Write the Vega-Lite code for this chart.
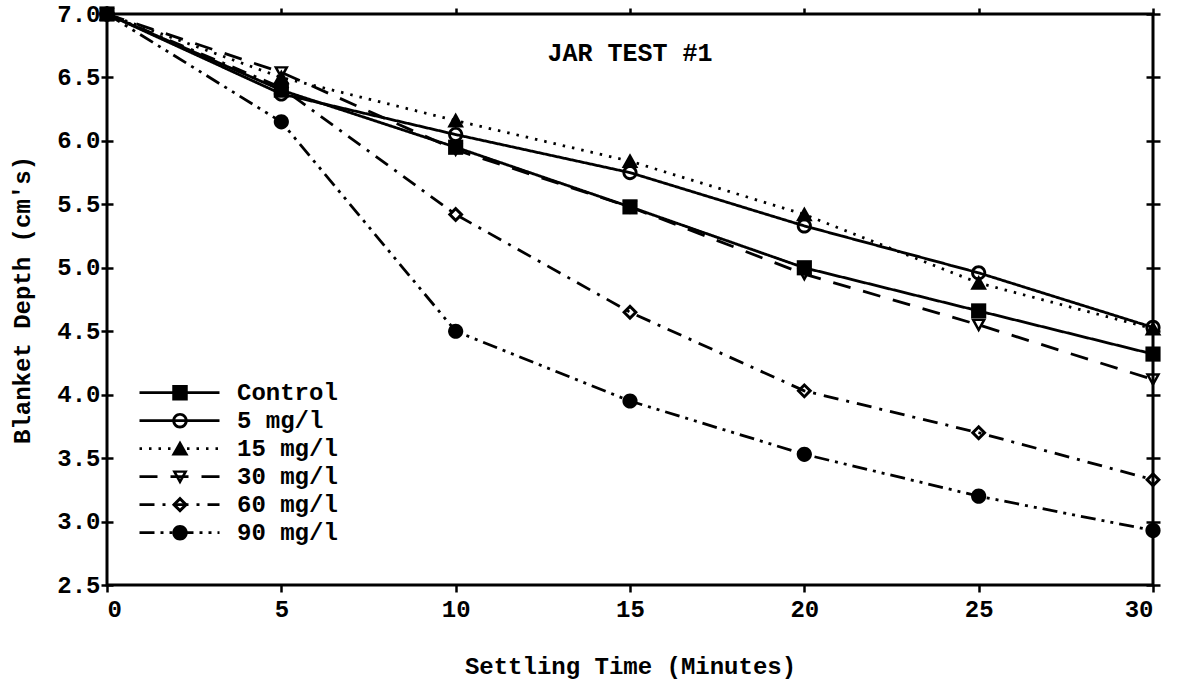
{
  "$schema": "https://vega.github.io/schema/vega-lite/v6.json",
  "autosize": "none",
  "width": 1046,
  "height": 571,
  "padding": {"left": 107, "top": 14, "right": 30, "bottom": 102},
  "background": "white",
  "title": {
    "text": "JAR TEST #1",
    "font": "Liberation Mono",
    "fontSize": 25,
    "fontWeight": "bold",
    "color": "black",
    "anchor": "middle",
    "orient": "top",
    "offset": -64
  },
  "config": {
    "view": {"stroke": "black", "strokeWidth": 3},
    "font": "Liberation Mono",
    "axis": {
      "labelFont": "Liberation Mono",
      "labelFontSize": 24,
      "labelFontWeight": "bold",
      "labelColor": "black",
      "titleFont": "Liberation Mono",
      "titleFontSize": 24,
      "titleFontWeight": "bold",
      "titleColor": "black",
      "tickColor": "black",
      "tickWidth": 2.5,
      "grid": false,
      "domain": false
    },
    "legend": {
      "labelFont": "Liberation Mono",
      "labelFontSize": 24,
      "labelFontWeight": "bold",
      "labelColor": "black",
      "padding": 0,
      "rowPadding": 0,
      "clipHeight": 27.3
    }
  },
  "data": {
    "values": [
      {"t": 0, "depth": 7.0, "series": "Control"},
      {"t": 5, "depth": 6.40, "series": "Control"},
      {"t": 10, "depth": 5.95, "series": "Control"},
      {"t": 15, "depth": 5.48, "series": "Control"},
      {"t": 20, "depth": 5.00, "series": "Control"},
      {"t": 25, "depth": 4.66, "series": "Control"},
      {"t": 30, "depth": 4.32, "series": "Control"},
      {"t": 0, "depth": 7.0, "series": "5 mg/l"},
      {"t": 5, "depth": 6.37, "series": "5 mg/l"},
      {"t": 10, "depth": 6.05, "series": "5 mg/l"},
      {"t": 15, "depth": 5.75, "series": "5 mg/l"},
      {"t": 20, "depth": 5.33, "series": "5 mg/l"},
      {"t": 25, "depth": 4.96, "series": "5 mg/l"},
      {"t": 30, "depth": 4.53, "series": "5 mg/l"},
      {"t": 0, "depth": 7.0, "series": "15 mg/l"},
      {"t": 5, "depth": 6.50, "series": "15 mg/l"},
      {"t": 10, "depth": 6.16, "series": "15 mg/l"},
      {"t": 15, "depth": 5.84, "series": "15 mg/l"},
      {"t": 20, "depth": 5.42, "series": "15 mg/l"},
      {"t": 25, "depth": 4.88, "series": "15 mg/l"},
      {"t": 30, "depth": 4.52, "series": "15 mg/l"},
      {"t": 0, "depth": 7.0, "series": "30 mg/l"},
      {"t": 5, "depth": 6.54, "series": "30 mg/l"},
      {"t": 10, "depth": 5.93, "series": "30 mg/l"},
      {"t": 15, "depth": 5.48, "series": "30 mg/l"},
      {"t": 20, "depth": 4.95, "series": "30 mg/l"},
      {"t": 25, "depth": 4.55, "series": "30 mg/l"},
      {"t": 30, "depth": 4.12, "series": "30 mg/l"},
      {"t": 0, "depth": 7.0, "series": "60 mg/l"},
      {"t": 5, "depth": 6.42, "series": "60 mg/l"},
      {"t": 10, "depth": 5.42, "series": "60 mg/l"},
      {"t": 15, "depth": 4.65, "series": "60 mg/l"},
      {"t": 20, "depth": 4.03, "series": "60 mg/l"},
      {"t": 25, "depth": 3.70, "series": "60 mg/l"},
      {"t": 30, "depth": 3.33, "series": "60 mg/l"},
      {"t": 0, "depth": 7.0, "series": "90 mg/l"},
      {"t": 5, "depth": 6.15, "series": "90 mg/l"},
      {"t": 10, "depth": 4.50, "series": "90 mg/l"},
      {"t": 15, "depth": 3.95, "series": "90 mg/l"},
      {"t": 20, "depth": 3.53, "series": "90 mg/l"},
      {"t": 25, "depth": 3.20, "series": "90 mg/l"},
      {"t": 30, "depth": 2.93, "series": "90 mg/l"}
    ]
  },
  "layer": [
    {
      "mark": {"type": "line", "stroke": "black", "strokeWidth": 2.8},
      "encoding": {
        "x": {
          "field": "t", "type": "quantitative",
          "scale": {"domain": [0, 30], "nice": false, "zero": false},
          "axis": {
            "orient": "bottom", "values": [0, 5, 10, 15, 20, 25, 30],
            "tickSize": 7, "labelPadding": 5, "labelBaseline": "top",
            "title": "Settling Time (Minutes)", "titlePadding": 33
          }
        },
        "y": {
          "field": "depth", "type": "quantitative",
          "scale": {"domain": [2.5, 7.0], "nice": false, "zero": false},
          "axis": {
            "orient": "left", "values": [2.5, 3.0, 3.5, 4.0, 4.5, 5.0, 5.5, 6.0, 6.5, 7.0],
            "format": ".1f", "offset": -6, "tickSize": 12, "labelPadding": 1,
            "title": "Blanket Depth (cm's)", "titlePadding": 22
          }
        },
        "detail": {"field": "series"},
        "strokeDash": {
          "field": "series", "type": "nominal",
          "scale": {
            "domain": ["Control", "5 mg/l", "15 mg/l", "30 mg/l", "60 mg/l", "90 mg/l"],
            "range": [[1, 0], [1, 0], [2.5, 7], [18, 13], [15, 8, 3, 8], [15, 6, 3, 6, 3, 6]]
          },
          "legend": {
            "orient": "none", "legendX": 31, "legendY": 365,
            "title": null, "symbolType": "stroke", "symbolSize": 6400,
            "symbolStrokeColor": "black", "symbolStrokeWidth": 2.8,
            "labelOffset": 16
          }
        }
      }
    },
    {
      "mark": {"type": "point", "filled": true, "color": "black", "fill": "black", "strokeWidth": 0, "size": 230, "opacity": 1},
      "encoding": {
        "x": {
          "field": "t", "type": "quantitative",
          "scale": {"domain": [0, 30], "nice": false, "zero": false},
          "axis": {
            "orient": "top", "values": [0, 5, 10, 15, 20, 25, 30],
            "tickSize": 6, "labels": false, "title": null
          }
        },
        "y": {
          "field": "depth", "type": "quantitative",
          "scale": {"domain": [2.5, 7.0], "nice": false, "zero": false},
          "axis": {
            "orient": "right", "values": [2.5, 3.0, 3.5, 4.0, 4.5, 5.0, 5.5, 6.0, 6.5, 7.0],
            "offset": -7, "tickSize": 14, "labels": false, "title": null
          }
        },
        "shape": {
          "field": "series", "type": "nominal", "sort": null,
          "scale": {"range": [
            "M-1,-1H1V1H-1Z",
            "M-1,0A1,1,0,1,0,1,0A1,1,0,1,0,-1,0ZM-0.62,0A0.62,0.62,0,1,1,0.62,0A0.62,0.62,0,1,1,-0.62,0Z",
            "M0,-1.05L1.1,0.9H-1.1Z",
            "M-1,-0.8H1L0,1ZM-0.45,-0.5L0,0.3L0.45,-0.5Z",
            "M0,-1.05L1.05,0L0,1.05L-1.05,0ZM0,-0.5L-0.5,0L0,0.5L0.5,0Z",
            "M-1,0A1,1,0,1,0,1,0A1,1,0,1,0,-1,0Z"
          ]},
          "legend": {
            "orient": "none", "legendX": 61, "legendY": 365,
            "title": null, "symbolSize": 240,
            "symbolFillColor": "black", "symbolStrokeColor": "black", "symbolStrokeWidth": 0,
            "labelColor": "transparent"
          }
        }
      }
    }
  ],
  "resolve": {
    "scale": {"x": "independent", "y": "independent"},
    "axis": {"x": "independent", "y": "independent"}
  }
}
